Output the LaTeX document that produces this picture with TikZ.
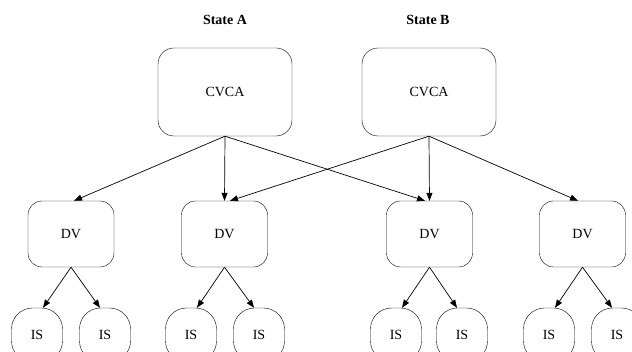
\documentclass[tikz,border=0pt]{standalone}
\usepackage{fontspec}
\setmainfont{Liberation Serif}
\usepackage{tikz}
\usetikzlibrary{shapes,arrows.meta,positioning}

\begin{document}
\begin{tikzpicture}[x=1pt,y=-1pt,
    lbl/.style={font=\fontsize{14}{16}\selectfont},
    cabox/.style={draw, lbl, rounded corners=16pt, minimum width=134pt, minimum height=88pt, inner sep=0pt},
    dvbox/.style={draw, lbl, rounded corners=14pt, minimum width=86pt, minimum height=66pt, inner sep=0pt},
    isbox/.style={draw, lbl, rounded corners=21pt, minimum width=51pt, minimum height=54pt, inner sep=0pt},
    statelbl/.style={font=\fontsize{14}{16}\selectfont\bfseries},
    link/.style={-{Triangle[length=8pt,width=6pt]}, line width=0.7pt}]
    \useasboundingbox (0,0) rectangle (632,352);

    \node[statelbl] (stA) at (225,20) {State A};
    \node[statelbl] (stB) at (428,20) {State B};

    \node[cabox] (caA) at (225,92) {CVCA};
    \node[cabox] (caB) at (429,92) {CVCA};

    \node[dvbox] (dv1) at (71,234) {DV};
    \node[dvbox] (dv2) at (224.5,234) {DV};
    \node[dvbox] (dv3) at (429.5,234) {DV};
    \node[dvbox] (dv4) at (582.5,234) {DV};

    \node[isbox] (is1) at (37,335) {IS};
    \node[isbox] (is2) at (105,335) {IS};
    \node[isbox] (is3) at (191,335) {IS};
    \node[isbox] (is4) at (259,335) {IS};
    \node[isbox] (is5) at (396,335) {IS};
    \node[isbox] (is6) at (462,335) {IS};
    \node[isbox] (is7) at (549,335) {IS};
    \node[isbox] (is8) at (617,335) {IS};

    \draw[link] (caA.south) -- ([xshift=3pt]dv1.north);
    \draw[link] (caA.south) -- (dv2.north);
    \draw[link] (caA.south) -- ([xshift=-4.5pt]dv3.north);
    \draw[link] (caB.south) -- ([xshift=5.5pt]dv2.north);
    \draw[link] (caB.south) -- (dv3.north);
    \draw[link] (caB.south) -- ([xshift=-4.5pt]dv4.north);

    \draw[link] (dv1.south) -- ([xshift=6pt]is1.north);
    \draw[link] (dv1.south) -- ([xshift=-5pt]is2.north);
    \draw[link] (dv2.south) -- ([xshift=6pt]is3.north);
    \draw[link] (dv2.south) -- ([xshift=-5pt]is4.north);
    \draw[link] (dv3.south) -- ([xshift=6pt]is5.north);
    \draw[link] (dv3.south) -- ([xshift=-5pt]is6.north);
    \draw[link] (dv4.south) -- ([xshift=6pt]is7.north);
    \draw[link] (dv4.south) -- ([xshift=-5pt]is8.north);
\end{tikzpicture}
\end{document}
